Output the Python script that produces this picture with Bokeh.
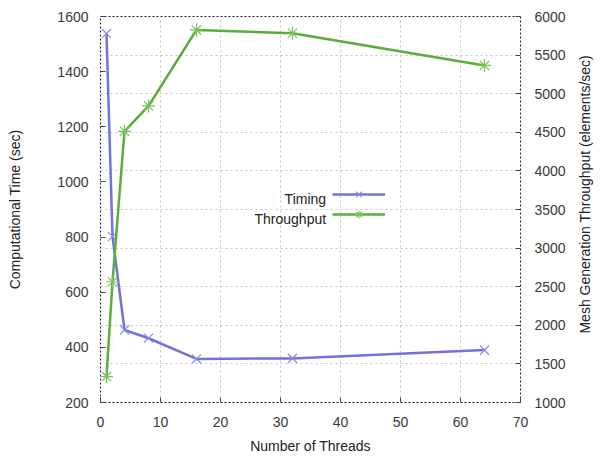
import math
from bokeh.plotting import figure
from bokeh.layouts import row
from bokeh.models import (Range1d, LinearAxis, SingleIntervalTicker, Grid, Legend, LegendItem, Label)
from bokeh.embed import file_html
from bokeh.resources import INLINE

threads = [1, 2, 4, 8, 16, 32, 64]
timing = [1538, 802, 463, 433, 358, 360, 390]
throughput = [1336, 2564, 4513, 4841, 5826, 5783, 5366]
series_names = ["Timing", "Throughput"]
right_label = "Mesh Generation Throughput (elements/sec)"

BLUE = "#7272de"
GREEN = "#5aad3a"
TXT = "#3a3a3a"
FONT = "Liberation Sans"

H = 456
p = figure(width=575, height=H, output_backend="svg", toolbar_location=None,
           x_range=Range1d(0, 70), y_range=Range1d(200, 1600),
           min_border_left=100, min_border_right=55, min_border_top=16, min_border_bottom=52)
p.extra_y_ranges = {"thr": Range1d(1000, 6000)}

p.outline_line_color = "#222222"
p.outline_line_dash = "2 2"
p.outline_line_width = 1
p.background_fill_color = "white"
p.border_fill_color = "white"

def style_axis(ax):
    ax.axis_line_color = None
    ax.major_tick_in = 5
    ax.major_tick_out = 0
    ax.minor_tick_line_color = None
    ax.major_tick_line_color = "#444444"
    ax.major_label_text_font = FONT
    ax.major_label_text_font_size = "14px"
    ax.major_label_text_color = TXT
    ax.axis_label_text_font = FONT
    ax.axis_label_text_font_size = "14px"
    ax.axis_label_text_font_style = "normal"
    ax.axis_label_text_color = "#222222"

p.xaxis.ticker = SingleIntervalTicker(interval=10)
p.yaxis.ticker = SingleIntervalTicker(interval=200)
p.xaxis.axis_label = "Number of Threads"
p.yaxis.axis_label = "Computational Time (sec)"
style_axis(p.xaxis[0])
style_axis(p.yaxis[0])
p.xaxis.major_label_standoff = 10
p.xaxis.axis_label_standoff = 8
p.yaxis.major_label_standoff = 8
p.yaxis.axis_label_standoff = 31

ra = LinearAxis(y_range_name="thr", ticker=SingleIntervalTicker(interval=500))
style_axis(ra)
ra.major_label_standoff = 10
p.add_layout(ra, "right")

p.xgrid.grid_line_color = "#c4c4c4"
p.xgrid.grid_line_dash = "2 3"
p.ygrid.visible = False
g2 = Grid(dimension=1, ticker=SingleIntervalTicker(interval=500), y_range_name="thr",
          grid_line_color="#c4c4c4", grid_line_dash="2 3")
p.add_layout(g2)

l1 = p.line(threads, timing, line_color=BLUE, line_width=2.5)
m1 = p.scatter(threads, timing, marker="x", size=13, line_color="#8c8ce8", line_width=1.2)
l2 = p.line(threads, throughput, line_color=GREEN, line_width=2.5, y_range_name="thr")
m2 = p.scatter(threads, throughput, marker="asterisk", size=13, line_color="#78c060", line_width=1.2,
               y_range_name="thr")

leg = Legend(items=[LegendItem(label=" ", renderers=[l1, m1]),
                    LegendItem(label=" ", renderers=[l2, m2])],
             location=(232, 178), orientation="vertical",
             padding=0, spacing=0, margin=0, glyph_width=53, glyph_height=20,
             label_height=20, label_width=0, label_standoff=0,
             border_line_color=None, background_fill_alpha=0)
p.add_layout(leg, "center")

for i, name in enumerate(series_names):
    p.add_layout(Label(x=37.6, y=938 - 72 * i, text=name, text_align="right",
                       text_baseline="middle", text_font=FONT, text_font_size="14px",
                       text_color="#222222"))

# narrow strip holding the right-hand axis title (reads bottom-to-top)
q = figure(width=22, height=H, output_backend="svg", toolbar_location=None,
           x_range=Range1d(0, 1), y_range=Range1d(0, H), x_axis_type=None, y_axis_type=None,
           min_border=0)
q.outline_line_color = None
q.grid.visible = False
q.border_fill_color = "white"
q.background_fill_color = "white"
q.add_layout(Label(x=0.45, y=H - (16 + 404) / 2, text=right_label, angle=math.pi / 2,
                   text_align="center", text_baseline="middle", text_font=FONT,
                   text_font_size="14px", text_color="#222222"))

layout = row(p, q, spacing=0)
open("out.html", "w").write(file_html(layout, INLINE))
